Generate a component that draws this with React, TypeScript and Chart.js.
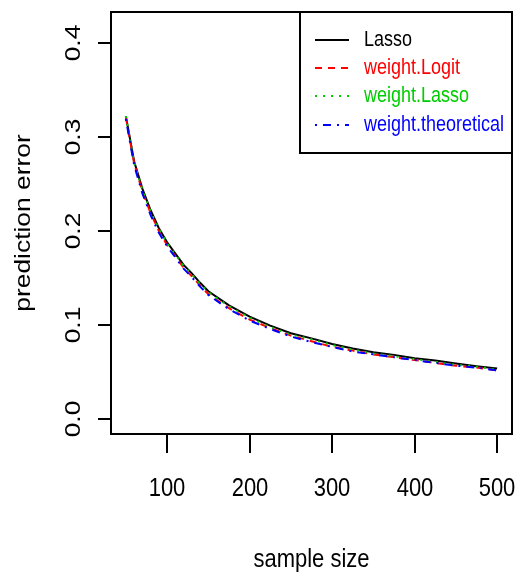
import React, { useEffect, useRef } from "react";
import { Chart, registerables } from "chart.js";

Chart.register(...registerables);

const sampleSizes = [50, 60, 70, 80, 90, 100, 110, 120, 130, 140, 150, 175, 200, 225, 250, 275, 300, 325, 350, 375, 400, 425, 450, 475, 500];
const lasso = [0.322, 0.274, 0.245, 0.222, 0.203, 0.188, 0.176, 0.164, 0.155, 0.145, 0.136, 0.121, 0.109, 0.0995, 0.0915, 0.086, 0.080, 0.0752, 0.0714, 0.0685, 0.065, 0.0625, 0.0593, 0.0565, 0.054];
const weightLogit = [0.321, 0.272, 0.242, 0.219, 0.200, 0.185, 0.173, 0.161, 0.152, 0.142, 0.133, 0.118, 0.106, 0.097, 0.089, 0.083, 0.077, 0.073, 0.069, 0.066, 0.063, 0.060, 0.057, 0.055, 0.052];
const weightLasso = [0.322, 0.273, 0.244, 0.221, 0.202, 0.187, 0.175, 0.163, 0.154, 0.144, 0.135, 0.120, 0.108, 0.098, 0.090, 0.085, 0.079, 0.074, 0.070, 0.067, 0.064, 0.061, 0.058, 0.056, 0.053];
const weightTheoretical = [0.319, 0.270, 0.240, 0.217, 0.198, 0.184, 0.172, 0.160, 0.151, 0.141, 0.132, 0.117, 0.105, 0.096, 0.088, 0.082, 0.077, 0.072, 0.069, 0.066, 0.063, 0.060, 0.057, 0.055, 0.052];
const xTicks = [100, 200, 300, 400, 500];
const yTicks = [0.0, 0.1, 0.2, 0.3, 0.4];
const yTickLabels = ["0.0", "0.1", "0.2", "0.3", "0.4"];
const seriesNames = ["Lasso", "weight.Logit", "weight.Lasso", "weight.theoretical"];
const seriesColors = ["#000000", "#FF0000", "#00CD00", "#0000FF"];
const seriesDashes: number[][] = [[], [7, 6], [2, 6], [2, 6, 8, 6]];
const xTitle = "sample size";
const yTitle = "prediction error";

const FONT = '"Liberation Sans", Arial, Helvetica, sans-serif';
const VS = 1.2;

function hText(ctx: CanvasRenderingContext2D, t: string, x: number, y: number, size: number, color = "#000", align: CanvasTextAlign = "center") {
  ctx.save();
  ctx.translate(x, y);
  ctx.scale(1, VS);
  ctx.font = `${size}px ${FONT}`;
  ctx.fillStyle = color;
  ctx.textAlign = align;
  ctx.textBaseline = "middle";
  ctx.fillText(t, 0, 0);
  ctx.restore();
}

function vText(ctx: CanvasRenderingContext2D, t: string, x: number, y: number, size: number) {
  ctx.save();
  ctx.translate(x, y);
  ctx.rotate(-Math.PI / 2);
  ctx.scale(VS, 1);
  ctx.font = `${size}px ${FONT}`;
  ctx.fillStyle = "#000";
  ctx.textAlign = "center";
  ctx.textBaseline = "middle";
  ctx.fillText(t, 0, 0);
  ctx.restore();
}

const rPlot = {
  id: "rPlot",
  afterDraw(chart: any) {
    const ctx: CanvasRenderingContext2D = chart.ctx;
    const a = chart.chartArea;
    const xs = chart.scales.x;
    const ys = chart.scales.y;
    ctx.save();
    ctx.strokeStyle = "#000";
    ctx.lineWidth = 2;
    ctx.setLineDash([]);
    ctx.strokeRect(a.left, a.top, a.right - a.left, a.bottom - a.top);
    xTicks.forEach((v) => {
      const px = Math.round(xs.getPixelForValue(v));
      ctx.beginPath();
      ctx.moveTo(px, a.bottom);
      ctx.lineTo(px, a.bottom + 19);
      ctx.stroke();
      hText(ctx, String(v), px, 488.5, 22);
    });
    yTicks.forEach((v, i) => {
      const py = Math.round(ys.getPixelForValue(v));
      ctx.beginPath();
      ctx.moveTo(a.left, py);
      ctx.lineTo(a.left - 13, py);
      ctx.stroke();
      vText(ctx, yTickLabels[i], 73.5, py, 22);
    });
    hText(ctx, xTitle, (a.left + a.right) / 2, 560, 22);
    vText(ctx, yTitle, 24, (a.top + a.bottom) / 2, 22);

    const lx = 300, ly = a.top, lw = a.right - 300, lh = 141;
    ctx.fillStyle = "#fff";
    ctx.fillRect(lx, ly, lw, lh);
    ctx.lineWidth = 2;
    ctx.strokeStyle = "#000";
    ctx.strokeRect(lx, ly, lw, lh);
    const rows = [40, 68, 96, 125];
    seriesNames.forEach((n, i) => {
      ctx.save();
      ctx.strokeStyle = seriesColors[i];
      ctx.lineWidth = 2;
      ctx.setLineDash(seriesDashes[i]);
      ctx.beginPath();
      ctx.moveTo(315, rows[i]);
      ctx.lineTo(349, rows[i]);
      ctx.stroke();
      ctx.restore();
      hText(ctx, n, 364, rows[i], 18, seriesColors[i], "left");
    });
    ctx.restore();
  },
};

export default function App() {
  const ref = useRef<HTMLCanvasElement>(null);
  useEffect(() => {
    document.body.style.margin = "0";
    const canvas = ref.current!;
    const mk = (data: number[], i: number) => ({
      label: seriesNames[i],
      data: sampleSizes.map((x, k) => ({ x, y: data[k] })),
      borderColor: seriesColors[i],
      backgroundColor: seriesColors[i],
      borderWidth: 2,
      borderDash: seriesDashes[i],
      pointRadius: 0,
      tension: 0,
      fill: false,
      order: 4 - i,
    });
    const chart = new Chart(canvas, {
      type: "line",
      data: {
        datasets: [mk(lasso, 0), mk(weightLogit, 1), mk(weightLasso, 2), mk(weightTheoretical, 3)],
      },
      options: {
        responsive: false,
        animation: false,
        devicePixelRatio: 1,
        layout: { padding: { left: 111, right: 6, top: 12, bottom: 146 } },
        plugins: { legend: { display: false }, tooltip: { enabled: false } },
        scales: {
          x: { type: "linear", min: 32, max: 518, display: false },
          y: { type: "linear", min: -0.0155, max: 0.4325, display: false },
        },
      },
      plugins: [rPlot],
    });
    return () => chart.destroy();
  }, []);
  return <canvas ref={ref} width={518} height={580} style={{ display: "block" }} />;
}
